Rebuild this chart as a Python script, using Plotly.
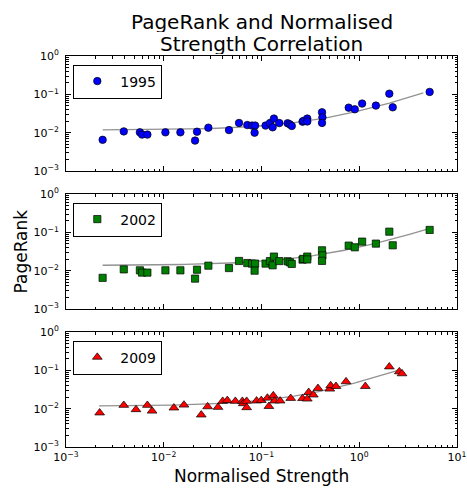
import numpy as np
import plotly.graph_objects as go
from plotly.subplots import make_subplots

# ---------------- data ----------------
YEARS = ["1995", "2002", "2009"]

X_1995 = [0.00237, 0.0039, 0.0057, 0.0060, 0.0068, 0.0104, 0.0148, 0.0209, 0.0219, 0.0286,
          0.0465, 0.0589, 0.0716, 0.080, 0.086, 0.085, 0.110, 0.122, 0.130, 0.134,
          0.152, 0.185, 0.195, 0.204, 0.263, 0.268, 0.294, 0.294, 0.416, 0.420,
          0.416, 0.78, 0.90, 1.07, 1.48, 2.03, 2.20, 5.25]
Y_1995 = [0.0065, 0.0108, 0.0102, 0.0089, 0.0089, 0.0102, 0.0102, 0.0062, 0.0106, 0.0135,
          0.0117, 0.0179, 0.0158, 0.0153, 0.0153, 0.0100, 0.0153, 0.0178, 0.0138, 0.0233,
          0.0178, 0.0176, 0.0165, 0.0150, 0.0194, 0.0203, 0.0233, 0.0196, 0.0340, 0.0251,
          0.0180, 0.0450, 0.0407, 0.0573, 0.0508, 0.104, 0.0459, 0.1155]

X_2002 = [0.00237, 0.0039, 0.0057, 0.0060, 0.0068, 0.0104, 0.0148, 0.0209, 0.0219, 0.0286,
          0.0465, 0.0589, 0.0716, 0.080, 0.086, 0.085, 0.110, 0.122, 0.130, 0.134,
          0.152, 0.185, 0.195, 0.204, 0.263, 0.268, 0.294, 0.294, 0.416, 0.420,
          0.416, 0.78, 0.90, 1.07, 1.48, 2.03, 2.20, 5.25]
Y_2002 = [0.0065, 0.0108, 0.0102, 0.0089, 0.0089, 0.0102, 0.0102, 0.0062, 0.0106, 0.0135,
          0.0117, 0.0179, 0.0158, 0.0153, 0.0153, 0.0100, 0.0153, 0.0178, 0.0138, 0.0233,
          0.0178, 0.0176, 0.0165, 0.0150, 0.0194, 0.0203, 0.0233, 0.0196, 0.0340, 0.0251,
          0.0180, 0.0450, 0.0407, 0.0573, 0.0508, 0.104, 0.0459, 0.1155]

X_2009 = [0.00221, 0.0039, 0.0052, 0.0068, 0.0076, 0.0127, 0.0161, 0.0242, 0.0281, 0.0359,
          0.0401, 0.0447, 0.054, 0.0637, 0.065, 0.0705, 0.0705, 0.089, 0.0995, 0.115,
          0.119, 0.132, 0.136, 0.155, 0.199, 0.263, 0.294, 0.304, 0.339, 0.378,
          0.50, 0.51, 0.578, 0.733, 1.154, 2.03, 2.57, 2.74]
Y_2009 = [0.0078, 0.0123, 0.0095, 0.0123, 0.0087, 0.0105, 0.0125, 0.0069, 0.0113, 0.0109,
          0.0157, 0.0165, 0.0157, 0.0157, 0.0136, 0.0157, 0.0107, 0.0160, 0.0165, 0.0190,
          0.0115, 0.0219, 0.0160, 0.0160, 0.0187, 0.0185, 0.0180, 0.0267, 0.0229, 0.0340,
          0.0327, 0.0400, 0.0383, 0.0508, 0.0383, 0.124, 0.0925, 0.082]

# trend line  y = a + b * x**c, drawn between x_start and x_end
FIT_A = [0.0117, 0.0137, 0.0117]
FIT_B = [0.0253, 0.0274, 0.0386]
FIT_C = [0.89, 0.851, 0.908]
FIT_X_START = [0.00237, 0.00237, 0.00218]
FIT_X_END = [4.52, 5.3, 2.6]

X_TICK_VALS = [0.001, 0.01, 0.1, 1, 10]
X_TICK_TEXT = ["10<sup>\u22123</sup>", "10<sup>\u22122</sup>", "10<sup>\u22121</sup>",
               "10<sup>0</sup>", "10<sup>1</sup>"]
Y_TICK_VALS = [0.001, 0.01, 0.1, 1]
Y_TICK_TEXT = ["10<sup>\u22123</sup>", "10<sup>\u22122</sup>", "10<sup>\u22121</sup>",
               "10<sup>0</sup>"]

TITLE_LINES = ["PageRank and Normalised", "Strength Correlation"]
X_TITLE = "Normalised Strength"
Y_TITLE = "PageRank"

# ---------------- styles ----------------
FONT = "DejaVu Sans"
COLORS = ["#0000ff", "#008000", "#ff0000"]
SYMBOLS = ["circle", "square", "triangle-up"]
SIZES = [7.5, 7.2, 8.5]
FIT_COLOR = "#929292"

XS = [X_1995, X_2002, X_2009]
YS = [Y_1995, Y_2002, Y_2009]

W, H = 467, 492
ML, MR, MT, MB = 66, 10, 56, 45
PW = W - ML - MR  # 391
PH = H - MT - MB  # 391


def px_to_paper_y(py):
    return 1 - (py - MT) / PH


def px_to_paper_x(px):
    return (px - ML) / PW


fig = make_subplots(rows=3, cols=1, vertical_spacing=23 / PH)

legend_names = ["legend", "legend2", "legend3"]
panel_tops_px = [56, 194, 332]

for i in range(3):
    r = i + 1
    xf = np.logspace(np.log10(FIT_X_START[i]), np.log10(FIT_X_END[i]), 200)
    yf = FIT_A[i] + FIT_B[i] * xf ** FIT_C[i]
    fig.add_trace(go.Scatter(x=xf, y=yf, mode="lines",
                             line=dict(color=FIT_COLOR, width=1.3),
                             showlegend=False, hoverinfo="skip"), row=r, col=1)
    fig.add_trace(go.Scatter(x=XS[i], y=YS[i], mode="markers", name=YEARS[i],
                             marker=dict(symbol=SYMBOLS[i], size=SIZES[i], color=COLORS[i],
                                         line=dict(color="black", width=0.7)),
                             legend=legend_names[i]), row=r, col=1)

minor_vals = [m * 10 ** e for e in range(-3, 1) for m in range(2, 10)]

axis_common = dict(
    type="log", showline=True, linecolor="black", linewidth=1, mirror="allticks",
    ticks="inside", ticklen=5, tickwidth=1, tickcolor="black",
    showgrid=False, zeroline=False, automargin=False,
    tickfont=dict(family=FONT, size=11, color="black"),
    minor=dict(ticks="inside", ticklen=2.5, tickwidth=0.8, tickcolor="black",
               tickmode="array", tickvals=minor_vals, showgrid=False),
)

for i in range(3):
    r = i + 1
    fig.update_xaxes(axis_common, range=[-3, 1], tickmode="array",
                     tickvals=X_TICK_VALS, ticktext=X_TICK_TEXT,
                     showticklabels=(r == 3), ticklabelstandoff=0, row=r, col=1)
    fig.update_yaxes(axis_common, range=[-3, 0], tickmode="array",
                     tickvals=Y_TICK_VALS, ticktext=Y_TICK_TEXT,
                     ticklabelstandoff=4, row=r, col=1)

legend_style = dict(bgcolor="white", bordercolor="black", borderwidth=1,
                    font=dict(family=FONT, size=14, color="black"),
                    xanchor="left", yanchor="top", itemwidth=36, tracegroupgap=0)
for i, ln in enumerate(legend_names):
    fig.update_layout({ln: dict(legend_style, x=px_to_paper_x(73.3),
                                y=px_to_paper_y(panel_tops_px[i] + 8.5))})

# title as two centered lines
for txt, cy in zip(TITLE_LINES, [21.5, 43.2]):
    fig.add_annotation(text=txt, xref="paper", yref="paper", x=0.5, y=px_to_paper_y(cy),
                       xanchor="center", yanchor="middle", showarrow=False, height=21,
                       font=dict(family=FONT, size=20, color="black"))

# axis titles
fig.add_annotation(text=X_TITLE, xref="paper", yref="paper", x=0.5, y=px_to_paper_y(476),
                   xanchor="center", yanchor="middle", showarrow=False,
                   font=dict(family=FONT, size=17, color="black"))
fig.add_annotation(text=Y_TITLE, xref="paper", yref="paper", x=px_to_paper_x(20),
                   y=0.5, xanchor="center", yanchor="middle", textangle=-90,
                   showarrow=False, font=dict(family=FONT, size=17, color="black"))

fig.update_layout(width=W, height=H, margin=dict(l=ML, r=MR, t=MT, b=MB, autoexpand=False),
                  paper_bgcolor="white", plot_bgcolor="white",
                  font=dict(family=FONT, color="black"))

# remove the browser's default 8px body margin so the figure sits at the page origin
fig.write_html("out.html", config={"displayModeBar": False},
               post_script="document.body.style.margin='0';document.body.style.overflow='hidden';")
